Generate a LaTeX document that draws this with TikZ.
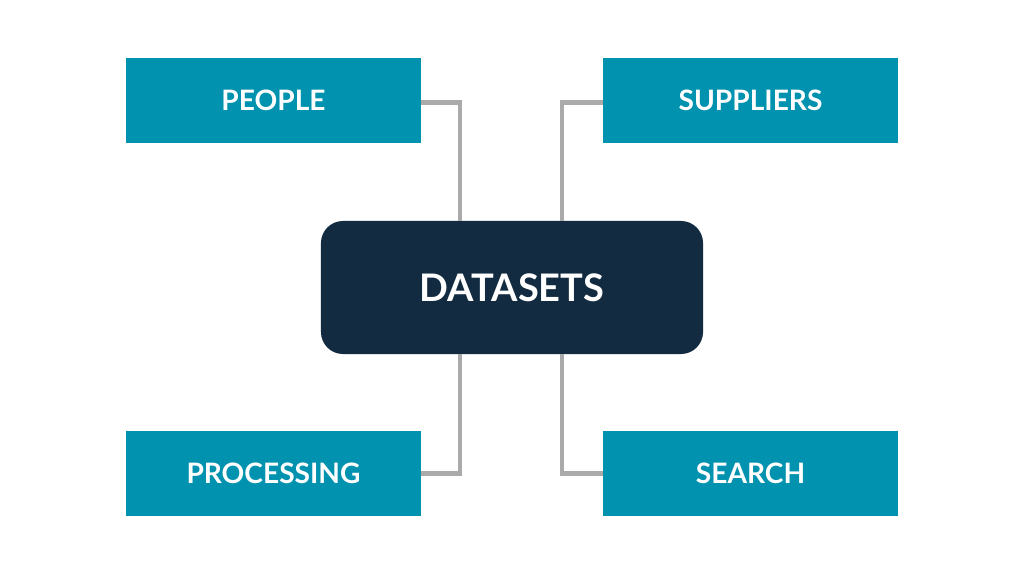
\documentclass[tikz,border=0pt]{standalone}
\usepackage{fontspec}
\setmainfont{Lato}
\usepackage{tikz}
\usetikzlibrary{calc}
\definecolor{tealbox}{HTML}{0092AE}
\definecolor{navybox}{HTML}{132B40}
\definecolor{linkgray}{HTML}{AAAAAA}
\begin{document}
\begin{tikzpicture}[x=0.025cm,y=-0.025cm,
    topic/.style={fill=tealbox, text=white, font=\bfseries\fontsize{20}{24}\selectfont,
        minimum width=7.375cm, minimum height=2.125cm, inner sep=0pt},
    hub/.style={fill=navybox, text=white, font=\bfseries\fontsize{27}{32}\selectfont,
        rounded corners=0.55cm, minimum width=9.55cm, minimum height=3.325cm, inner sep=0pt},
    link/.style={linkgray, line width=3.5pt}]
\useasboundingbox[fill=white] (0,0) rectangle (1024,576);
\node[hub] (datasets) at (512,287.5) {DATASETS};
\node[topic] (people) at (273.5,100.5) {PEOPLE};
\node[topic] (suppliers) at (750.5,100.5) {SUPPLIERS};
\node[topic] (processing) at (273.5,473.5) {PROCESSING};
\node[topic] (search) at (750.5,473.5) {SEARCH};
\draw[link] ([yshift=-0.04cm]people.east) -| ($(datasets.north)+(-52,0)$);
\draw[link] ([yshift=-0.04cm]suppliers.west) -| ($(datasets.north)+(50,0)$);
\draw[link] (processing.east) -| ($(datasets.south)+(-52,0)$);
\draw[link] (search.west) -| ($(datasets.south)+(50,0)$);
\end{tikzpicture}
\end{document}
